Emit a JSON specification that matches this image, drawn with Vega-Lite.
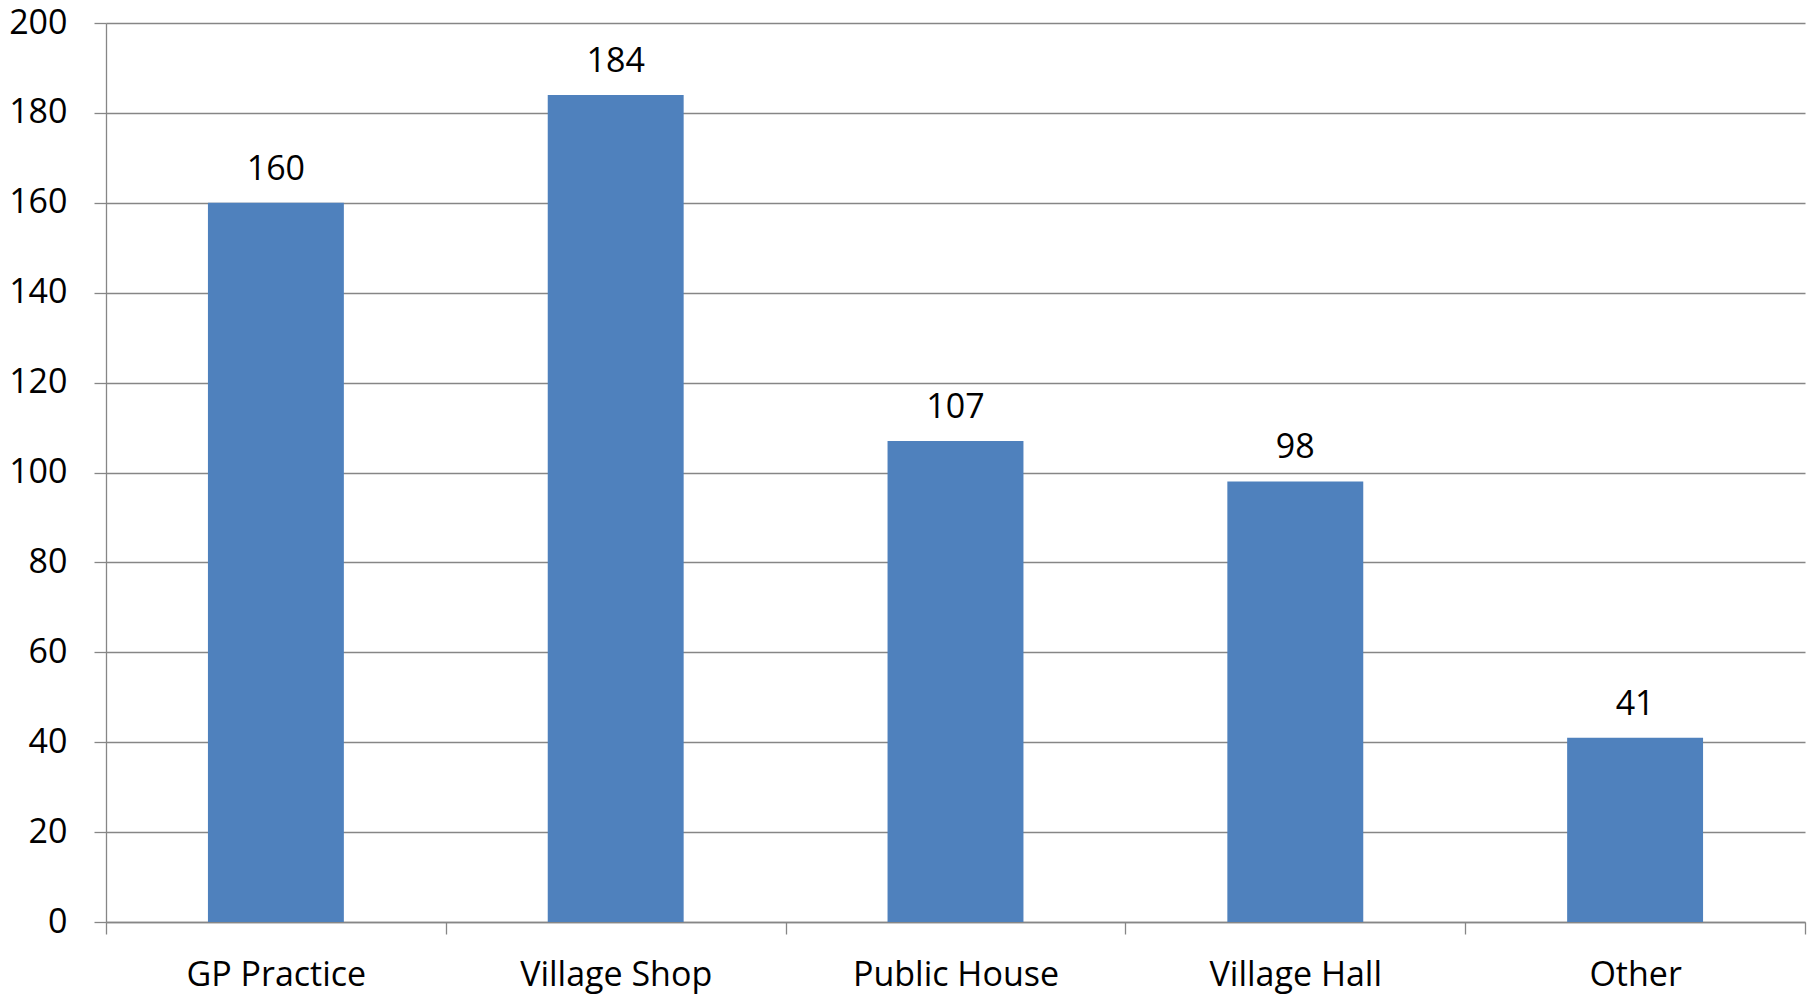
{
  "$schema": "https://vega.github.io/schema/vega-lite/v6.json",
  "autosize": "none",
  "width": 1699,
  "height": 899,
  "padding": {"left": 106, "top": 23, "right": 11, "bottom": 73},
  "background": "white",
  "config": {
    "view": {"stroke": null},
    "font": "Open Sans"
  },
  "data": {
    "values": [
      {"category": "GP Practice", "value": 160},
      {"category": "Village Shop", "value": 184},
      {"category": "Public House", "value": 107},
      {"category": "Village Hall", "value": 98},
      {"category": "Other", "value": 41}
    ]
  },
  "encoding": {
    "x": {
      "field": "category",
      "type": "nominal",
      "sort": null,
      "scale": {"paddingInner": 0, "paddingOuter": 0},
      "axis": {
        "title": null,
        "labelAngle": 0,
        "labelFont": "Open Sans",
        "labelFontSize": 34,
        "labelColor": "#000000",
        "labelPadding": 24,
        "labelLimit": 0,
        "tickBand": "extent",
        "tickSize": 12,
        "tickColor": "#868686",
        "tickWidth": 1.3,
        "domainColor": "#868686",
        "domainWidth": 1.3,
        "grid": false
      }
    },
    "y": {
      "field": "value",
      "type": "quantitative",
      "scale": {"domain": [0, 200], "nice": false},
      "axis": {
        "title": null,
        "values": [0, 20, 40, 60, 80, 100, 120, 140, 160, 180, 200],
        "labelFont": "Open Sans",
        "labelFontSize": 34,
        "labelColor": "#000000",
        "labelPadding": 27,
        "tickSize": 12,
        "tickColor": "#868686",
        "tickWidth": 1.3,
        "domainColor": "#868686",
        "domainWidth": 1.3,
        "grid": true,
        "gridColor": "#868686",
        "gridWidth": 1.3
      }
    }
  },
  "layer": [
    {"mark": {"type": "bar", "color": "#4F81BD", "width": {"band": 0.4}}},
    {
      "mark": {"type": "text", "font": "Open Sans", "fontSize": 34, "color": "#000000", "baseline": "alphabetic", "dy": -23},
      "encoding": {"text": {"field": "value", "type": "quantitative"}}
    }
  ]
}
